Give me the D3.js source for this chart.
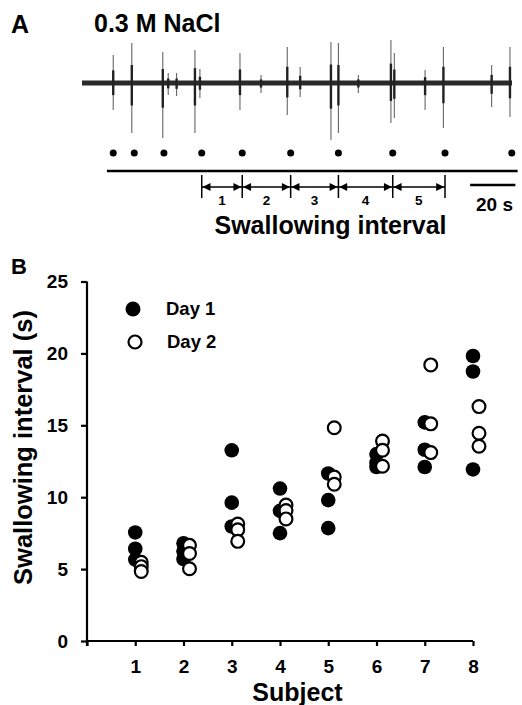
<!DOCTYPE html>
<html>
<head>
<meta charset="utf-8">
<script src="https://cdnjs.cloudflare.com/ajax/libs/d3/7.8.5/d3.min.js"></script>
<style>
  body { margin: 0; background: #fff; }
  svg { display: block; font-family: "Liberation Sans", Arial, sans-serif; font-weight: bold; }
</style>
</head>
<body>
<div id="chart"></div>
<script>
/** Swallowing trace (panel A) and swallowing intervals per subject (panel B). */

// Panel A: recording, times in seconds
var spikeTimes = [13.8, 22.0, 35.7, 38.1, 41.8, 49.9, 52.1, 69.8, 79.1, 90.7, 96.4,
                  110.0, 113.3, 122.1, 136.5, 138.0, 151.6, 159.7, 181.0, 189.1];
var spikeUp    = [28, 40, 31, 10, 10, 33, 14, 30, 8, 36, 16,
                  41, 40, 8, 43, 30, 13, 36, 18, 36];
var spikeDown  = [27, 50, 55, 12, 13, 50, 15, 27, 10, 32, 14,
                  57, 50, 10, 40, 35, 27, 45, 24, 34];
var swallowTimes = [13.8, 23.1, 36.2, 52.9, 70.8, 92.2, 113.3, 137.3, 160.4, 189.9];
var intervalLabels = ["1", "2", "3", "4", "5"];
var intervalStart = 3;   // first swallow used for the numbered intervals
var timelineSpan = [11, 192.5];
var scaleBarStart = 171.5;
var scaleBarLength = 20;

// Panel B: swallowing interval (s), three per subject and day
var subjects = [1, 2, 3, 4, 5, 6, 7, 8];
var day1 = [
    [7.55, 6.42, 5.66],
    [6.8, 6.24, 5.7],
    [13.26, 9.62, 7.96],
    [10.6, 9.05, 7.5],
    [11.65, 9.8, 7.85],
    [13.0, 12.4, 12.1],
    [15.2, 13.3, 12.1],
    [19.82, 18.74, 11.93]
];
var day2 = [
    [5.48, 5.17, 4.83],
    [6.65, 6.08, 5.02],
    [8.13, 7.73, 6.93],
    [9.46, 9.07, 8.49],
    [14.83, 11.4, 10.9],
    [13.9, 13.26, 12.15],
    [19.2, 15.1, 13.1],
    [16.3, 14.45, 13.54]
];
var yTicks = [0, 5, 10, 15, 20, 25];
var legendLabels = ["Day 1", "Day 2"];

var W = 522, H = 705;
var svg = d3.select("#chart").append("svg")
    .attr("width", W)
    .attr("height", H);

/* ---------------- Panel A ---------------- */
var tScale = d3.scaleLinear().domain([0, 190]).range([82, 512]);
var aScale = d3.scaleLinear().domain([-50, 50]).range([133, 33]);

svg.append("text").attr("x", 11).attr("y", 33)
    .style("font-size", "25px").text("A");
svg.append("text").attr("x", 94).attr("y", 32)
    .style("font-size", "25px").text("0.3 M NaCl");

var trace = svg.append("g").attr("class", "trace");

// Noisy baseline band
trace.append("line")
    .attr("x1", tScale(0)).attr("x2", tScale(190))
    .attr("y1", aScale(0)).attr("y2", aScale(0))
    .attr("stroke", "#2a2a2a").attr("stroke-width", 5);

var spikes = spikeTimes.map(function(t, i) {
    return {t: t, up: spikeUp[i], down: spikeDown[i]};
});

// Thin full-height deflections
trace.selectAll(".spike")
    .data(spikes).enter()
    .append("line")
        .attr("class", "spike")
        .attr("x1", function(d) {return tScale(d.t);})
        .attr("x2", function(d) {return tScale(d.t);})
        .attr("y1", function(d) {return aScale(d.up);})
        .attr("y2", function(d) {return aScale(-d.down);})
        .attr("stroke", "#666").attr("stroke-width", 1.1);

// Denser core of each burst
trace.selectAll(".spike-core")
    .data(spikes).enter()
    .append("line")
        .attr("class", "spike-core")
        .attr("x1", function(d) {return tScale(d.t);})
        .attr("x2", function(d) {return tScale(d.t);})
        .attr("y1", function(d) {return aScale(d.up * 0.45);})
        .attr("y2", function(d) {return aScale(-d.down * 0.45);})
        .attr("stroke", "#222").attr("stroke-width", 2.4);

// Swallow markers
var dotY = 153;
svg.selectAll(".swallow")
    .data(swallowTimes).enter()
    .append("circle")
        .attr("class", "swallow")
        .attr("cx", function(d) {return tScale(d);})
        .attr("cy", dotY)
        .attr("r", 3.5)
        .attr("fill", "#000");

// Time line
svg.append("line")
    .attr("x1", tScale(timelineSpan[0])).attr("x2", tScale(timelineSpan[1]))
    .attr("y1", 171).attr("y2", 171)
    .attr("stroke", "#000").attr("stroke-width", 2.6);

// Interval arrows
var arrowY = 187;
var bounds = swallowTimes.slice(intervalStart, intervalStart + intervalLabels.length + 1);
var arrows = svg.append("g").attr("class", "intervals");

arrows.selectAll(".bound")
    .data(bounds).enter()
    .append("line")
        .attr("x1", function(d) {return tScale(d);})
        .attr("x2", function(d) {return tScale(d);})
        .attr("y1", 175).attr("y2", 198)
        .attr("stroke", "#000").attr("stroke-width", 1.5);

var intervals = intervalLabels.map(function(lab, i) {
    return {a: bounds[i], b: bounds[i + 1], lab: lab};
});

arrows.selectAll(".shaft")
    .data(intervals).enter()
    .append("line")
        .attr("x1", function(d) {return tScale(d.a);})
        .attr("x2", function(d) {return tScale(d.b);})
        .attr("y1", arrowY).attr("y2", arrowY)
        .attr("stroke", "#000").attr("stroke-width", 1.4);

function head(x, dir) {
    // dir = 1 points right, -1 points left
    return "M" + x + "," + arrowY +
        "L" + (x - dir * 8) + "," + (arrowY - 4) +
        "L" + (x - dir * 8) + "," + (arrowY + 4) + "Z";
}
arrows.selectAll(".head-l")
    .data(intervals).enter()
    .append("path")
        .attr("d", function(d) {return head(tScale(d.a) + 0.8, -1);})
        .attr("fill", "#000");
arrows.selectAll(".head-r")
    .data(intervals).enter()
    .append("path")
        .attr("d", function(d) {return head(tScale(d.b) - 0.8, 1);})
        .attr("fill", "#000");

arrows.selectAll(".ilabel")
    .data(intervals).enter()
    .append("text")
        .attr("x", function(d) {return tScale((d.a + d.b) / 2);})
        .attr("y", 205)
        .attr("text-anchor", "middle")
        .style("font-size", "13.5px")
        .text(function(d) {return d.lab;});

svg.append("text").attr("x", 330.5).attr("y", 233.5)
    .attr("text-anchor", "middle")
    .style("font-size", "25px").text("Swallowing interval");

// 20 s scale bar
svg.append("line")
    .attr("x1", tScale(scaleBarStart)).attr("x2", tScale(scaleBarStart + scaleBarLength))
    .attr("y1", 185).attr("y2", 185)
    .attr("stroke", "#000").attr("stroke-width", 2.6);
svg.append("text").attr("x", 476).attr("y", 211)
    .style("font-size", "19px").text(scaleBarLength + " s");

/* ---------------- Panel B ---------------- */
var xScale = d3.scaleLinear().domain([0, 8]).range([87, 473]);
var yScale = d3.scaleLinear().domain([0, 25]).range([641, 281.5]);

svg.append("text").attr("x", 11).attr("y", 274)
    .style("font-size", "22px").text("B");

var gx = svg.append("g")
    .attr("class", "axis x-axis")
    .attr("transform", "translate(0," + yScale(0) + ")")
    .call(d3.axisBottom(xScale)
        .tickValues([0].concat(subjects))
        .tickFormat(function(d) {return d === 0 ? "" : d;})
        .tickSize(5).tickPadding(14));

var gy = svg.append("g")
    .attr("class", "axis y-axis")
    .attr("transform", "translate(" + xScale(0) + ",0)")
    .call(d3.axisLeft(yScale)
        .tickValues(yTicks)
        .tickSize(6).tickPadding(13));

svg.selectAll(".axis path, .axis line")
    .attr("stroke", "#000").attr("stroke-width", 2.2);
gx.select(".domain").attr("d", "M" + (xScale(0) - 1) + ",0H" + xScale(8));
gy.select(".domain").attr("d", "M0," + (yScale(0) + 5) + "V" + yScale(25));
svg.selectAll(".axis text")
    .attr("fill", "#000")
    .style("font-size", "19px")
    .style("font-weight", "bold")
    .style("font-family", "'Liberation Sans', Arial, sans-serif");

svg.append("text").attr("x", 297.5).attr("y", 701)
    .attr("text-anchor", "middle")
    .style("font-size", "25px").text("Subject");

svg.append("text")
    .attr("transform", "translate(32,447.5) rotate(-90)")
    .attr("text-anchor", "middle")
    .style("font-size", "25.5px").text("Swallowing interval (s)");

// Flatten into points
var openOffset = 6;
var pts1 = [], pts2 = [];
subjects.forEach(function(s, i) {
    day1[i].forEach(function(v) {pts1.push({s: s, v: v});});
    day2[i].forEach(function(v) {pts2.push({s: s, v: v});});
});

svg.selectAll(".day1")
    .data(pts1).enter()
    .append("circle")
        .attr("class", "day1")
        .attr("cx", function(d) {return xScale(d.s);})
        .attr("cy", function(d) {return yScale(d.v);})
        .attr("r", 7.3)
        .attr("fill", "#000");

svg.selectAll(".day2")
    .data(pts2).enter()
    .append("circle")
        .attr("class", "day2")
        .attr("cx", function(d) {return xScale(d.s) + openOffset;})
        .attr("cy", function(d) {return yScale(d.v);})
        .attr("r", 6.4)
        .attr("fill", "#fff")
        .attr("stroke", "#000")
        .attr("stroke-width", 2.2);

// Legend
var legend = svg.append("g").attr("class", "legend");
legend.append("circle").attr("cx", 133).attr("cy", 309).attr("r", 7.5).attr("fill", "#000");
legend.append("circle").attr("cx", 135).attr("cy", 342).attr("r", 6.5)
    .attr("fill", "#fff").attr("stroke", "#000").attr("stroke-width", 2.2);
legend.selectAll(".ltext")
    .data(legendLabels).enter()
    .append("text")
        .attr("x", function(d, i) {return 166 + i;})
        .attr("y", function(d, i) {return 315 + i * 33;})
        .style("font-size", "18.5px")
        .text(function(d) {return d;});
</script>
</body>
</html>
